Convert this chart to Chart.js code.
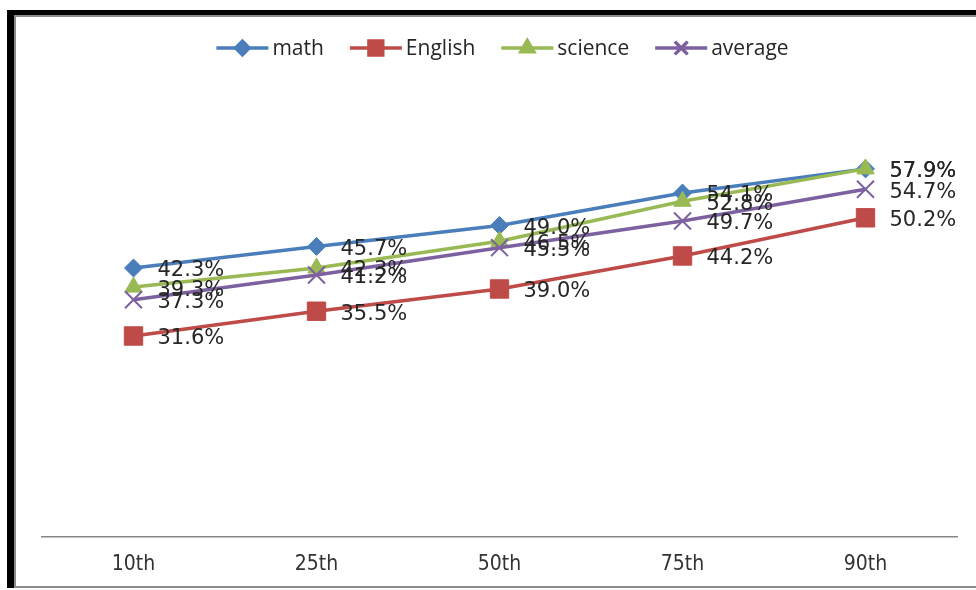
<!DOCTYPE html>
<html>
<head>
<meta charset="utf-8">
<script src="https://cdn.jsdelivr.net/npm/chart.js@4.4.0/dist/chart.umd.min.js"></script>
<style>
  html, body { margin: 0; padding: 0; background: #fff; }
  #wrap { position: relative; width: 976px; height: 590px; overflow: hidden; }
  #frame { position: absolute; left: 7px; top: 10px; right: -20px; height: 573px;
           border-top: 5px solid #000; border-left: 7px solid #000; }
  #inner { position: absolute; left: 0; top: 0; right: 0; bottom: 0;
           border-top: 2px solid #8c8c8c; border-left: 2px solid #8c8c8c; border-bottom: 2px solid #8c8c8c; }
  canvas { position: absolute; left: 0; top: 0; }
</style>
</head>
<body>
<div id="wrap">
  <div id="frame"><div id="inner"></div></div>
  <canvas id="scoreChart" width="976" height="590"></canvas>
</div>
<script>
// Percentile categories
const percentiles = ['10th', '25th', '50th', '75th', '90th'];

// Scores per subject (%)
const mathScores    = [42.3, 45.7, 49.0, 54.1, 57.9];
const englishScores = [31.6, 35.5, 39.0, 44.2, 50.2];
const scienceScores = [39.3, 42.3, 46.5, 52.8, 57.9];
const averageScores = [37.3, 41.2, 45.5, 49.7, 54.7];

const seriesNames = ['math', 'English', 'science', 'average'];
const colors = ['#4A7EBB', '#BE4B48', '#98B954', '#7D60A0'];
const markers = ['rectRot', 'rect', 'triangle', 'crossRot'];
const markerSizes = [9, 13, 10, 12];

// Value labels to the right of each point
const pointLabels = {
    id: 'pointLabels',
    afterDatasetsDraw(chart) {
        const ctx = chart.ctx;
        ctx.save();
        ctx.font = '21px "DejaVu Sans", Verdana, sans-serif';
        ctx.fillStyle = '#262626';
        ctx.textAlign = 'left';
        ctx.textBaseline = 'middle';
        chart.data.datasets.forEach((ds, i) => {
            chart.getDatasetMeta(i).data.forEach((pt, j) => {
                ctx.fillText(ds.data[j].toFixed(1) + '%', pt.x + 24, pt.y + 3);
            });
        });
        ctx.restore();
    }
};

// Legend row: line segment with marker, then the name
const lineLegend = {
    id: 'lineLegend',
    afterDraw(chart) {
        const ctx = chart.ctx;
        const y = 48;
        ctx.save();
        ctx.font = '21px "Open Sans", sans-serif';
        const lineLen = 52, gap = 4, spacing = 26;
        const widths = seriesNames.map(n => lineLen + gap + ctx.measureText(n).width);
        const total = widths.reduce((a, b) => a + b, 0) + spacing * (widths.length - 1);
        let x = (chart.chartArea.left + chart.chartArea.right) / 2 - total / 2 + 3;
        chart.data.datasets.forEach((ds, i) => {
            ctx.strokeStyle = ds.borderColor;
            ctx.lineWidth = 3.5;
            ctx.beginPath();
            ctx.moveTo(x, y);
            ctx.lineTo(x + lineLen, y);
            ctx.stroke();
            Chart.helpers.drawPoint(ctx, {
                pointStyle: ds.pointStyle,
                radius: ds.pointRadius * 0.75,
                borderWidth: ds.pointBorderWidth,
                rotation: 0
            }, x + lineLen / 2, y);
            ctx.fillStyle = ds.borderColor;
            ctx.strokeStyle = ds.borderColor;
            ctx.lineWidth = ds.pointBorderWidth;
            ctx.fill();
            ctx.stroke();
            ctx.fillStyle = '#262626';
            ctx.textAlign = 'left';
            ctx.textBaseline = 'middle';
            ctx.fillText(seriesNames[i], x + lineLen + gap, y + 1);
            x += widths[i] + spacing;
        });
        ctx.restore();
    }
};

const allScores = [mathScores, englishScores, scienceScores, averageScores];

new Chart(document.getElementById('scoreChart').getContext('2d'), {
    type: 'line',
    data: {
        labels: percentiles,
        datasets: allScores.map((d, i) => ({
            label: seriesNames[i],
            data: d,
            order: allScores.length - i, // later series on top
            borderColor: colors[i],
            backgroundColor: colors[i],
            borderWidth: 3.5,
            pointStyle: markers[i],
            pointRadius: markerSizes[i],
            pointHoverRadius: markerSizes[i],
            pointBackgroundColor: colors[i],
            pointBorderColor: colors[i],
            pointBorderWidth: i === 3 ? 2 : 1,
            tension: 0,
            fill: false
        }))
    },
    options: {
        responsive: false,
        animation: false,
        layout: { padding: { left: 42, right: 19, top: 92, bottom: -2 } },
        plugins: {
            legend: { display: false },
            tooltip: { enabled: false }
        },
        scales: {
            x: {
                offset: true,
                grid: { display: false, drawTicks: false },
                border: { display: true, color: '#868686', width: 1.5 },
                ticks: {
                    color: '#333',
                    padding: 15,
                    font: { family: '"DejaVu Sans Condensed", sans-serif', size: 21, lineHeight: 1.2 }
                }
            },
            y: { display: false, min: 0, max: 70 }
        }
    },
    plugins: [pointLabels, lineLegend]
});
</script>
</body>
</html>
